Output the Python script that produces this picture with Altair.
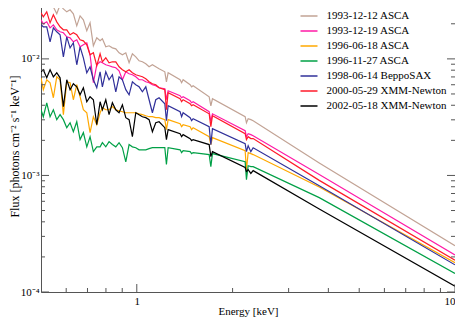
import math
import altair as alt
import pandas as pd

# ---- data ----
energy = [0.5, 0.5084, 0.5212, 0.5339, 0.5468, 0.5604, 0.5740, 0.5879, 0.6025, 0.6171,
          0.6319, 0.6477, 0.6634, 0.6794, 0.6964, 0.7131, 0.7304, 0.7486, 0.7668, 0.7796,
          0.7990, 0.8182, 0.8381, 0.8590, 0.8796, 0.9011, 0.9235, 0.9458, 0.9687, 0.9928,
          1.0168, 1.0414, 1.0673, 1.0931, 1.1196, 1.1472, 1.1751, 1.2249, 1.2392, 1.2545,
          1.368, 1.3832, 1.3982, 1.4712, 1.4872, 1.5034, 1.6883, 1.7090, 1.7290, 2.1903,
          2.2112, 2.2387, 2.2826, 2.3210, 3.7446, 10.0]

names = ["1993-12-12 ASCA", "1993-12-19 ASCA", "1996-06-18 ASCA", "1996-11-27 ASCA",
         "1998-06-14 BeppoSAX", "2000-05-29 XMM-Newton", "2002-05-18 XMM-Newton"]
colors = ["#c2a395", "#ff1aa6", "#ffa800", "#00a046", "#30309a", "#ff1a2a", "#000000"]

flux_931212 = [0.03025, 0.03025, 0.02908, 0.02966, 0.02795, 0.02435, 0.02908, 0.02686, 0.02533, 0.02635,
               0.02435, 0.01921, 0.02340, 0.02163, 0.01741, 0.02039, 0.01295, 0.01516, 0.01429, 0.01486,
               0.01269, 0.01295, 0.01244, 0.01220, 0.01128, 0.01084, 0.01128, 0.00926, 0.01106, 0.01042,
               0.00963, 0.00944, 0.00908, 0.00855, 0.00890, 0.00855, 0.00822, 0.00775, 0.00636, 0.00760,
               0.00662, 0.00624, 0.00662, 0.00600, 0.00576, 0.00588, 0.00473, 0.00396, 0.00455, 0.00319,
               0.00283, 0.00307, 0.00301, 0.00295, 0.00128, 0.000249]
flux_931219 = [0.02163, 0.01999, 0.02079, 0.01847, 0.01960, 0.01776, 0.01707, 0.01674, 0.01546, 0.01516,
               0.01401, 0.01458, 0.01269, 0.01321, 0.01374, 0.01084, 0.00624, 0.00890, 0.00944, 0.00926,
               0.00890, 0.00873, 0.00855, 0.00839, 0.00791, 0.00662, 0.00775, 0.00745, 0.00731, 0.00702,
               0.00662, 0.00662, 0.00636, 0.00624, 0.00600, 0.00588, 0.00565, 0.00554, 0.00446, 0.00533,
               0.00483, 0.00464, 0.00473, 0.00437, 0.00420, 0.00429, 0.00352, 0.00289, 0.00338, 0.00242,
               0.00215, 0.00228, 0.00224, 0.00219, 0.00102, 0.000208]
flux_960618 = [0.00688, 0.00544, 0.00662, 0.00624, 0.00464, 0.00702, 0.00662, 0.00332, 0.00636, 0.00624,
               0.00446, 0.00600, 0.00473, 0.00366, 0.00345, 0.00233, 0.00319, 0.00272, 0.00345, 0.00381,
               0.00366, 0.00366, 0.00389, 0.00366, 0.00359, 0.00352, 0.00345, 0.00345, 0.00345, 0.00345,
               0.00338, 0.00332, 0.00325, 0.00319, 0.00319, 0.00313, 0.00313, 0.00301, 0.00247, 0.00301,
               0.00278, 0.00262, 0.00272, 0.00262, 0.00247, 0.00257, 0.00215, 0.00184, 0.00211, 0.00163,
               0.00112, 0.00157, 0.00154, 0.00151, 0.000796, 0.000178]
flux_961127 = [0.00366, 0.00319, 0.00420, 0.00319, 0.00366, 0.00301, 0.00332, 0.00301, 0.00257, 0.00283,
               0.00237, 0.00289, 0.00203, 0.00233, 0.00176, 0.00215, 0.00160, 0.00176, 0.00176, 0.00191,
               0.00176, 0.00195, 0.00184, 0.00176, 0.00191, 0.00173, 0.00131, 0.00184, 0.00176, 0.00173,
               0.00166, 0.00166, 0.00166, 0.00170, 0.00173, 0.00173, 0.00173, 0.00173, 0.00124, 0.00173,
               0.00166, 0.00157, 0.00163, 0.00160, 0.00154, 0.00157, 0.00151, 0.00119, 0.00154, 0.00131,
               0.000920, 0.00121, 0.00119, 0.00119, 0.000645, 0.000144]
flux_980614 = [0.01960, 0.01884, 0.01884, 0.01401, 0.01847, 0.01707, 0.01609, 0.01042, 0.01546, 0.01244,
               0.01374, 0.00890, 0.01269, 0.01022, 0.00760, 0.00855, 0.00662, 0.00565, 0.00775, 0.00576,
               0.00775, 0.00662, 0.00731, 0.00522, 0.00702, 0.00662, 0.00544, 0.00492, 0.00636, 0.00600,
               0.00576, 0.00522, 0.00576, 0.00446, 0.00345, 0.00446, 0.00464, 0.00412, 0.00295, 0.00396,
               0.00352, 0.00319, 0.00345, 0.00313, 0.00295, 0.00307, 0.00262, 0.00184, 0.00252, 0.00187,
               0.00160, 0.00180, 0.00160, 0.00173, 0.000817, 0.000171]
flux_000529 = [0.02483, 0.02294, 0.02533, 0.02039, 0.02387, 0.02079, 0.01884, 0.01776, 0.01776, 0.01609,
               0.01674, 0.01609, 0.01458, 0.01429, 0.01321, 0.01084, 0.01128, 0.00873, 0.01106, 0.00944,
               0.01022, 0.00926, 0.00944, 0.00944, 0.00855, 0.00807, 0.00775, 0.00807, 0.00760, 0.00731,
               0.00716, 0.00702, 0.00675, 0.00636, 0.00612, 0.00600, 0.00565, 0.00544, 0.00366, 0.00512,
               0.00455, 0.00429, 0.00446, 0.00412, 0.00396, 0.00404, 0.00338, 0.00262, 0.00325, 0.00228,
               0.00203, 0.00215, 0.00207, 0.00207, 0.000907, 0.000187]
flux_020518 = [0.00775, 0.00807, 0.00688, 0.00807, 0.00702, 0.00760, 0.00688, 0.00389, 0.00662, 0.00544,
               0.00612, 0.00576, 0.00492, 0.00565, 0.00429, 0.00473, 0.00446, 0.00272, 0.00429, 0.00366,
               0.00446, 0.00332, 0.00420, 0.00366, 0.00345, 0.00404, 0.00313, 0.00301, 0.00215, 0.00345,
               0.00332, 0.00319, 0.00313, 0.00301, 0.00237, 0.00283, 0.00289, 0.00257, 0.00203, 0.00247,
               0.00228, 0.00215, 0.00224, 0.00207, 0.00199, 0.00203, 0.00184, 0.00145, 0.00160, 0.00117,
               0.00108, 0.00112, 0.00104, 0.00110, 0.000516, 0.000112]

series = [flux_931212, flux_931219, flux_960618, flux_961127, flux_980614, flux_000529, flux_020518]

# axis ticks and labels
x_major = [1, 10]
x_minor = [0.6, 0.7, 0.8, 0.9, 2, 3, 4, 5, 6, 7, 8, 9]
y_major = [1e-4, 1e-3, 1e-2]
y_major_labels = ["10\u207b\u2074", "10\u207b\u00b3", "10\u207b\u00b2"]
y_minor = [2e-4, 3e-4, 4e-4, 5e-4, 6e-4, 7e-4, 8e-4, 9e-4,
           2e-3, 3e-3, 4e-3, 5e-3, 6e-3, 7e-3, 8e-3, 9e-3, 2e-2, 3e-2]

rows = []
for name, flux in zip(names, series):
    assert len(flux) == len(energy)
    for e, f in zip(energy, flux):
        rows.append({"series": name, "energy": e, "flux": f})
df = pd.DataFrame(rows)

W, H = 414, 292
FONT = "Liberation Serif"
AXC = "#555555"
xscale = alt.Scale(type="log", domain=[0.5, 10], nice=False)
yscale = alt.Scale(type="log", domain=[1e-4, 0.032], nice=False)

label_expr = " : ".join(
    f"abs(log(datum.value)/log(10) - ({int(round(math.log10(v)))})) < 0.01 ? '{lab}'"
    for v, lab in zip(y_major, y_major_labels)
) + " : ''"

x_axis = alt.Axis(title="Energy [keV]", values=x_major, format="~g", ticks=False,
                  domain=False, grid=False, labelPadding=3, titlePadding=-1,
                  labelFontSize=11, titleFontSize=11, labelFont=FONT, titleFont=FONT,
                  labelColor="#000", titleColor="#000", titleFontWeight="normal")
y_axis = alt.Axis(title="Flux [photons cm\u207b\u00b2 s\u207b\u00b9 keV\u207b\u00b9]",
                  values=y_major, labelExpr=label_expr, ticks=False, domain=False,
                  grid=False, labelPadding=2, titlePadding=-1.5,
                  labelFontSize=11, titleFontSize=12, labelFont=FONT, titleFont=FONT,
                  labelColor="#000", titleColor="#000", titleFontWeight="normal")

lines = alt.Chart(df).mark_line(strokeWidth=1.2, clip=True).encode(
    x=alt.X("energy:Q", scale=xscale, axis=x_axis),
    y=alt.Y("flux:Q", scale=yscale, axis=y_axis),
    color=alt.Color("series:N", scale=alt.Scale(domain=names, range=colors),
                    legend=alt.Legend(title=None, orient="none", legendX=258.5, legendY=6.5,
                                      symbolType="stroke", symbolSize=289, symbolStrokeWidth=1.5,
                                      labelFont=FONT, labelFontSize=11, labelColor="#000",
                                      labelOffset=8, rowPadding=-4.3, padding=0)),
)

def xticks(vals, length):
    d = pd.DataFrame({"energy": vals})
    bot = alt.Chart(d).mark_rule(color=AXC, strokeWidth=1).encode(
        x=alt.X("energy:Q", scale=xscale, axis=x_axis), y=alt.value(H), y2=alt.value(H - length))
    top = alt.Chart(d).mark_rule(color=AXC, strokeWidth=1).encode(
        x=alt.X("energy:Q", scale=xscale, axis=x_axis), y=alt.value(0), y2=alt.value(length))
    return [bot, top]

def yticks(vals, length):
    d = pd.DataFrame({"flux": vals})
    left = alt.Chart(d).mark_rule(color=AXC, strokeWidth=1).encode(
        y=alt.Y("flux:Q", scale=yscale, axis=y_axis), x=alt.value(0), x2=alt.value(length))
    right = alt.Chart(d).mark_rule(color=AXC, strokeWidth=1).encode(
        y=alt.Y("flux:Q", scale=yscale, axis=y_axis), x=alt.value(W), x2=alt.value(W - length))
    return [left, right]

layers = [lines] + xticks(x_major, 8) + xticks(x_minor, 4) + yticks(y_major, 8) + yticks(y_minor, 4)

chart = alt.layer(*layers).properties(
    width=W, height=H,
    autosize=alt.AutoSizeParams(type="none"),
    padding={"left": 33, "top": -8, "right": 0, "bottom": 27},
).configure_view(stroke=AXC, strokeWidth=1)

chart.save("out.html", embed_options={"renderer": "svg", "actions": False})
